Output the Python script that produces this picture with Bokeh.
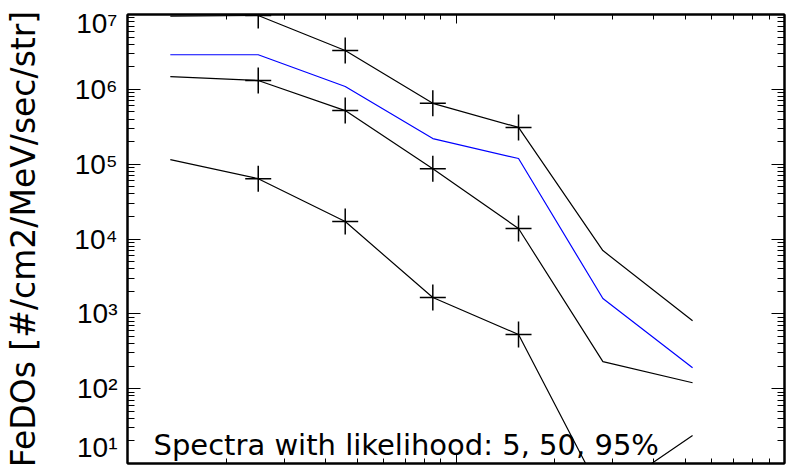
from bokeh.plotting import figure
from bokeh.models import LogAxis, FixedTicker, Range1d, Label, CustomJSTickFormatter
from bokeh.embed import file_html
from bokeh.resources import INLINE

# energies (x, log axis) and the four spectra
energy = [1.35, 2.5, 4.6, 8.5, 15.5, 28.0, 52.5]
spec_95 = [9.5e6, 9.7e6, 3.3e6, 6.5e5, 3.1e5, 7.0e3, 8.1e2]
spec_50 = [2.9e6, 2.9e6, 1.09e6, 2.2e5, 1.19e5, 1.6e3, 1.9e2]
spec_05 = [1.48e6, 1.31e6, 5.2e5, 8.7e4, 1.38e4, 2.3e2, 1.2e2]
spec_low = [1.15e5, 6.4e4, 1.71e4, 1.65e3, 5.3e2, 3.6, 23.6]

y_major = [1e1, 1e2, 1e3, 1e4, 1e5, 1e6, 1e7]
y_tick_labels = ["10\u00b9", "10\u00b2", "10\u00b3", "10\u2074", "10\u2075", "10\u2076", "10\u2077"]
y_minor = [m * 10.0 ** k for k in range(1, 7) for m in range(2, 10)]
x_major = [1.0, 10.0, 100.0]
x_minor = [m * 10.0 ** k for k in range(0, 2) for m in range(2, 10)]

ylabel = "FeDOs [#/cm2/MeV/sec/str]"
note = "Spectra with likelihood: 5, 50, 95%"

TICK_FONT = "Liberation Sans"
TICK_SIZE = "28px"

p = figure(width=789, height=470, x_axis_type="log", y_axis_type="log",
           x_range=Range1d(1, 100), y_range=Range1d(10, 1e7),
           output_backend="svg", toolbar_location=None,
           x_axis_location="below", y_axis_location="left",
           min_border_left=127, min_border_right=5, min_border_top=14, min_border_bottom=7)
p.background_fill_color = "white"
p.border_fill_color = "white"
p.outline_line_color = "black"
p.outline_line_width = 2
p.xgrid.visible = False
p.ygrid.visible = False

yt = FixedTicker(ticks=y_major, minor_ticks=y_minor)
xt = FixedTicker(ticks=x_major, minor_ticks=x_minor)

ly = p.left[0]
bx = p.below[0]
ry = LogAxis(ticker=yt)
p.add_layout(ry, "right")
tx = LogAxis(ticker=xt)
p.add_layout(tx, "above")
ly.ticker = yt
bx.ticker = xt

# left axis labels; the end labels are kept inside the frame's height, as in the original
overrides = {v: t for v, t in zip(y_major, y_tick_labels)}
overrides[y_major[0]] = y_tick_labels[0] + "\n"
overrides[y_major[-1]] = "\n" + y_tick_labels[-1]
ly.major_label_overrides = overrides
ly.major_label_text_line_height = 0.24
ly.axis_label = ylabel
ly.axis_label_text_font = "DejaVu Sans"
ly.axis_label_text_font_style = "normal"
ly.axis_label_text_font_size = "33px"
ly.axis_label_text_color = "black"
ly.axis_label_standoff = 28
ly.major_label_text_font = TICK_FONT
ly.major_label_text_font_size = TICK_SIZE
ly.major_label_text_color = "black"
ly.major_label_standoff = 10

for ax in [ly, ry]:
    ax.major_tick_in = 13
    ax.major_tick_out = 0
    ax.minor_tick_in = 7
    ax.minor_tick_out = 0
for ax in [tx, bx]:
    ax.major_tick_in = 9
    ax.major_tick_out = 0
    ax.minor_tick_in = 5
    ax.minor_tick_out = 0
for ax in [ly, ry, tx, bx]:
    ax.axis_line_width = 2
    ax.axis_line_color = "black"
    ax.major_tick_line_color = "black"
    ax.minor_tick_line_color = "black"
    ax.major_tick_line_width = 1
    ax.minor_tick_line_width = 1
for ax in [ry, tx, bx]:
    ax.formatter = CustomJSTickFormatter(code="return ''")
    ax.major_label_text_font_size = "1px"
    ax.major_label_standoff = 0

for s, c in [(spec_95, "black"), (spec_50, "blue"), (spec_05, "black"), (spec_low, "black")]:
    p.line(energy, s, line_color=c, line_width=1.2)

for s in [spec_95, spec_05, spec_low]:
    p.scatter(energy[1:5], s[1:5], marker="cross", size=26, line_color="black", line_width=1.5)

p.add_layout(Label(x=1.2, y=12.4, y_offset=12, text=note, text_font="DejaVu Sans",
                   text_font_size="29px", text_color="black", text_baseline="alphabetic"))

open("out.html", "w").write(file_html(p, INLINE))
